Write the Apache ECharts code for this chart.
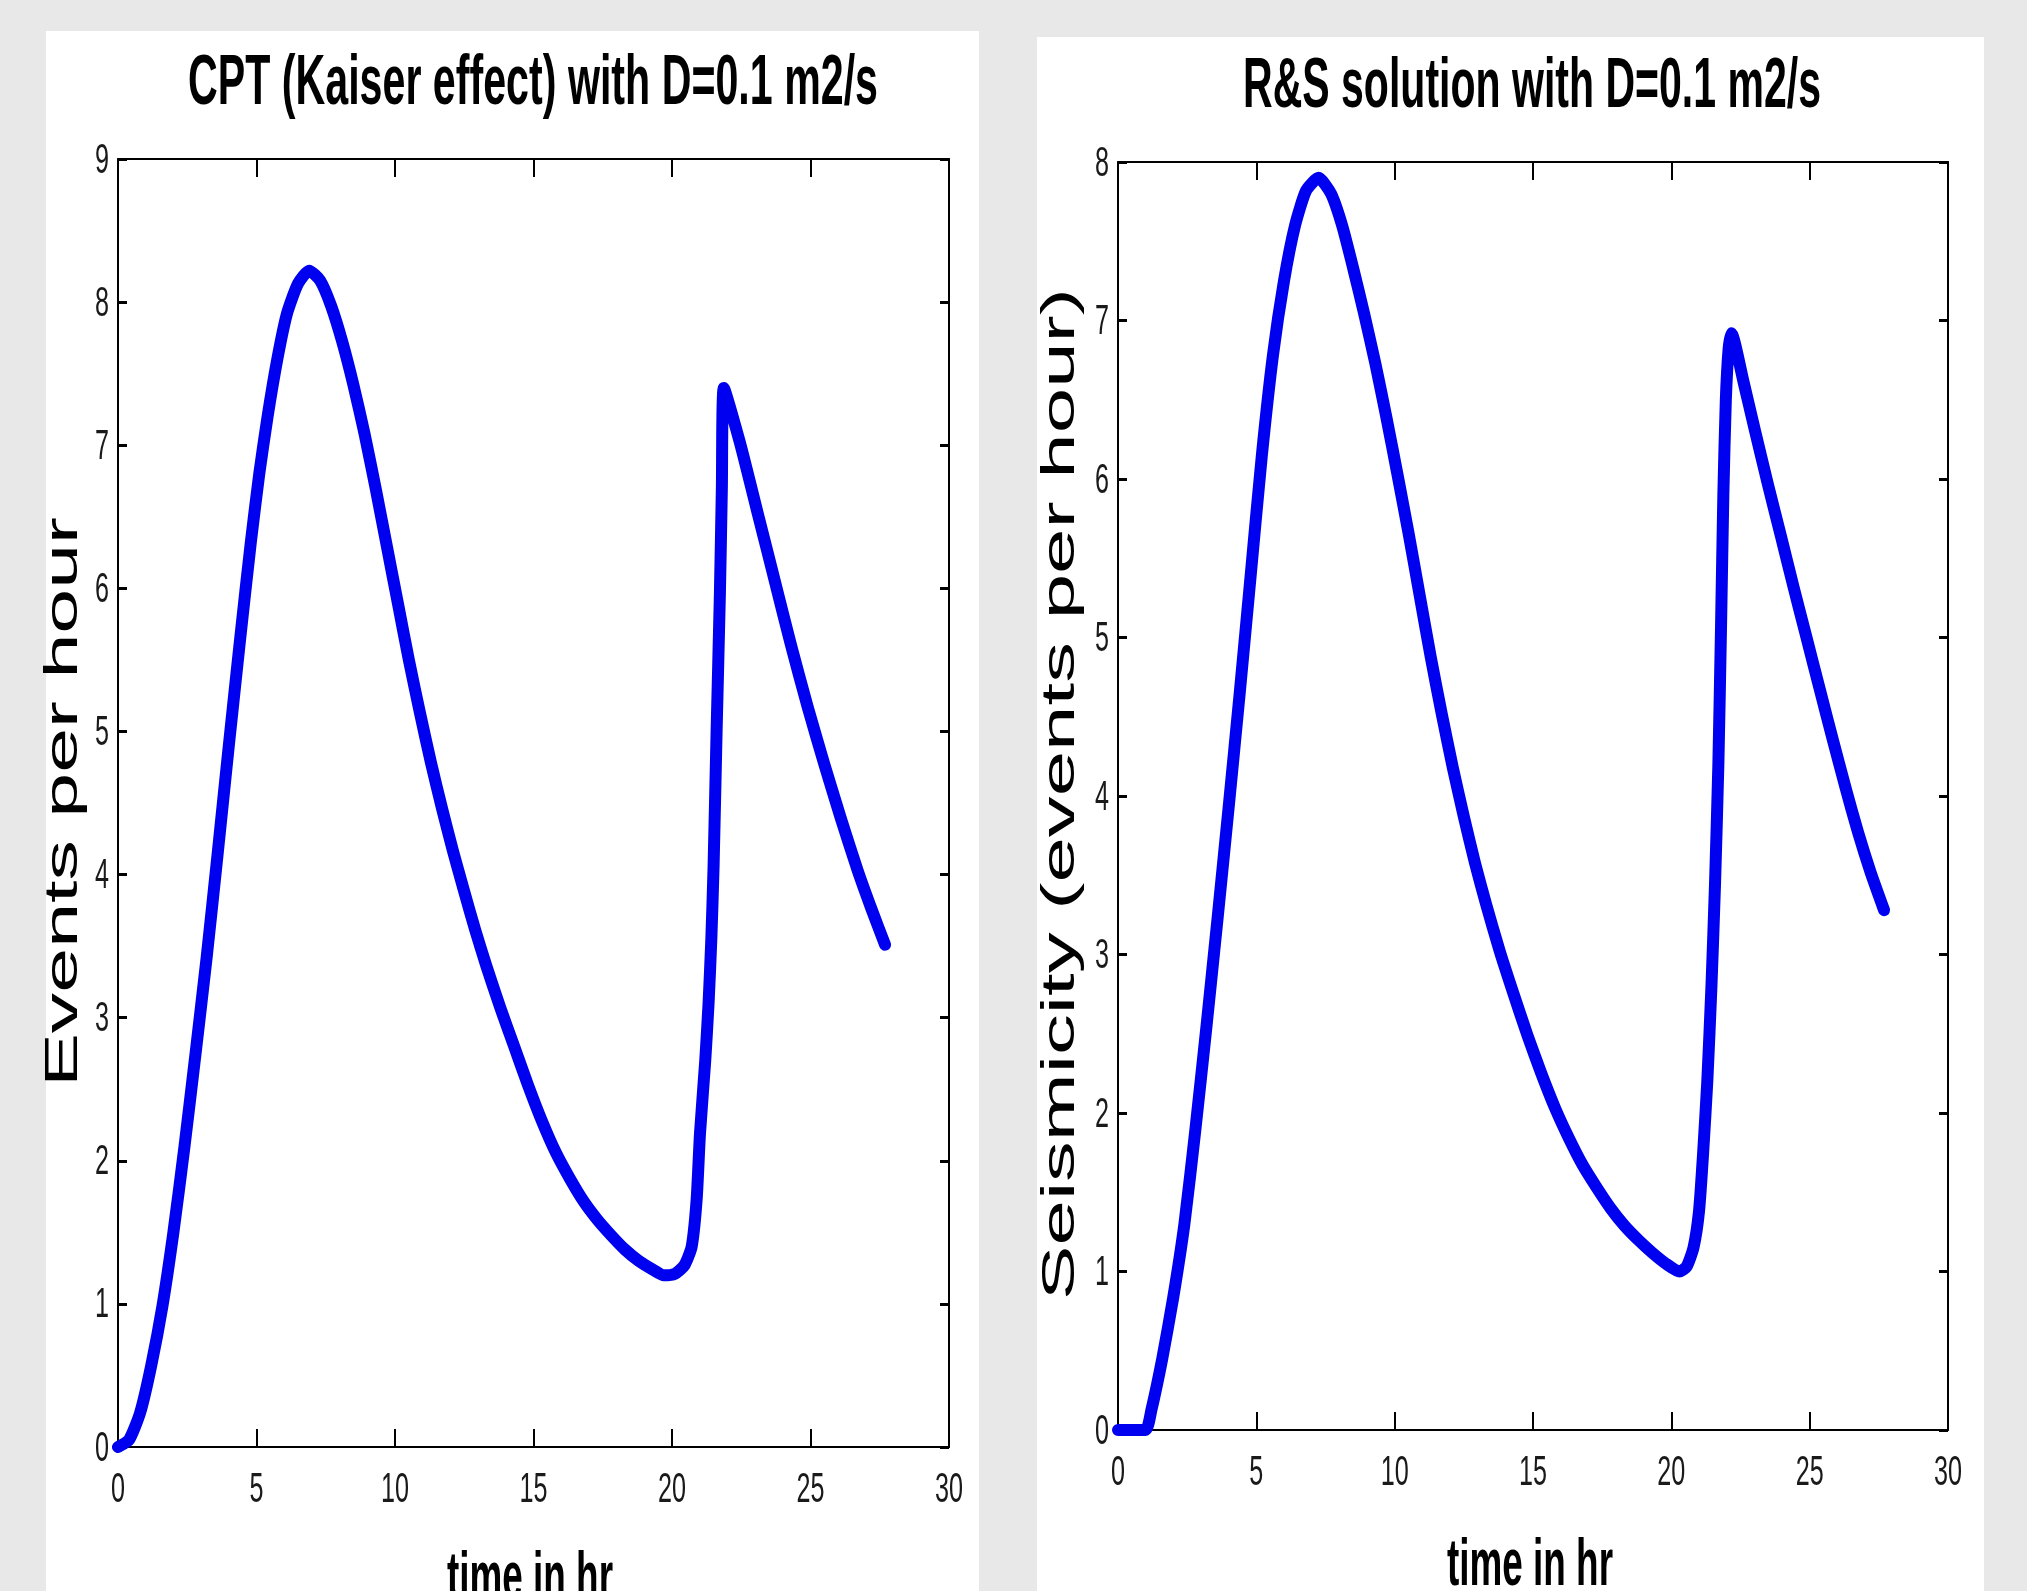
<!DOCTYPE html>
<html>
<head>
<meta charset="utf-8">
<script src="https://cdn.jsdelivr.net/npm/echarts@6/dist/echarts.min.js"></script>
<style>
html,body{margin:0;padding:0;background:#e8e8e8;}
#c{width:2027px;height:1591px;}
</style>
</head>
<body>
<div id="c"></div>
<script>
// ---------------- data ----------------
const xTicks = [0, 5, 10, 15, 20, 25, 30];
const cptYTicks = [0, 1, 2, 3, 4, 5, 6, 7, 8, 9];
const rsYTicks = [0, 1, 2, 3, 4, 5, 6, 7, 8];

const cptTitle = 'CPT (Kaiser effect) with D=0.1 m2/s';
const rsTitle = 'R&S solution with D=0.1 m2/s';
const xName = 'time in hr';
const cptYName = 'Events per hour';
const rsYName = 'Seismicity (events per hour)';

// [time (hr), events per hour]
const cptCurve = [
  [0, 0], [0.4, 0.05], [0.8, 0.24], [1.2, 0.57], [1.6, 0.98], [2.0, 1.5], [2.4, 2.1],
  [2.8, 2.75], [3.2, 3.42], [3.6, 4.15], [4.0, 4.9], [4.4, 5.63], [4.8, 6.33], [5.1, 6.8],
  [5.4, 7.2], [5.75, 7.6], [6.1, 7.92], [6.5, 8.13], [6.9, 8.22], [7.3, 8.15], [7.7, 7.97],
  [8.1, 7.72], [8.5, 7.42], [8.9, 7.08], [9.3, 6.7], [9.7, 6.3], [10.1, 5.9], [10.5, 5.5],
  [10.9, 5.13], [11.3, 4.78], [11.7, 4.46], [12.1, 4.16], [12.5, 3.88], [12.9, 3.61],
  [13.3, 3.36], [13.8, 3.07], [14.3, 2.8], [14.8, 2.53], [15.3, 2.28], [15.8, 2.06],
  [16.3, 1.88], [16.8, 1.72], [17.3, 1.59], [17.8, 1.48], [18.3, 1.38], [18.8, 1.3],
  [19.3, 1.24], [19.7, 1.2], [20.1, 1.21], [20.45, 1.27], [20.71, 1.4], [20.89, 1.73],
  [21.01, 2.19], [21.2, 2.7], [21.32, 3.1], [21.42, 3.55], [21.5, 4.05], [21.61, 5.0],
  [21.73, 5.97], [21.8, 6.7], [21.87, 7.4], [22.45, 7.02], [23.1, 6.52], [23.7, 6.06],
  [24.3, 5.6], [24.9, 5.17], [25.5, 4.77], [26.1, 4.39], [26.7, 4.03], [27.2, 3.76], [27.69, 3.51]
];

const rsCurve = [
  [0, 0], [0.5, 0], [1.0, 0], [1.2, 0.12], [1.6, 0.45], [2.0, 0.84], [2.4, 1.3],
  [2.8, 1.9], [3.2, 2.55], [3.6, 3.23], [4.0, 3.93], [4.4, 4.65], [4.8, 5.4], [5.2, 6.15],
  [5.6, 6.78], [6.0, 7.25], [6.4, 7.6], [6.8, 7.82], [7.25, 7.9], [7.7, 7.8], [8.1, 7.6],
  [8.5, 7.33], [8.9, 7.04], [9.3, 6.73], [9.7, 6.39], [10.1, 6.03], [10.5, 5.66],
  [10.9, 5.27], [11.3, 4.88], [11.7, 4.52], [12.1, 4.18], [12.5, 3.87], [12.9, 3.58],
  [13.3, 3.32], [13.8, 3.02], [14.3, 2.75], [14.8, 2.49], [15.3, 2.25], [15.8, 2.03],
  [16.3, 1.84], [16.8, 1.67], [17.3, 1.53], [17.8, 1.4], [18.3, 1.29], [18.8, 1.2],
  [19.3, 1.12], [19.8, 1.05], [20.3, 1.0], [20.55, 1.03], [20.8, 1.15], [21.0, 1.38],
  [21.15, 1.75], [21.3, 2.2], [21.45, 2.8], [21.58, 3.45], [21.7, 4.2], [21.8, 5.1],
  [21.88, 5.9], [21.97, 6.5], [22.07, 6.82], [22.17, 6.92], [22.6, 6.62], [23.03, 6.3],
  [23.5, 5.96], [23.96, 5.64], [24.43, 5.31], [24.9, 4.99], [25.37, 4.67], [25.83, 4.36],
  [26.3, 4.05], [26.75, 3.77], [27.2, 3.52], [27.69, 3.28]
];

// ---------------- layout / style ----------------
const FONT = '"Liberation Sans", Arial, Helvetica, sans-serif';
const LINE_COLOR = '#0000f0';
const ctx = document.createElement('canvas').getContext('2d');
function measure(text, size, weight) {
  ctx.font = weight + ' ' + size + 'px ' + FONT;
  return ctx.measureText(text).width;
}

const chart = echarts.init(document.getElementById('c'), null, { renderer: 'canvas' });

function xAx(grid, pos) {
  return {
    gridIndex: grid, type: 'value', min: 0, max: 30, interval: 5, position: pos,
    axisLine: { show: true, onZero: false, lineStyle: { color: '#000', width: 2 } },
    axisTick: { show: true, inside: true, length: 18, lineStyle: { color: '#000', width: 2 } },
    axisLabel: { show: false }, splitLine: { show: false }
  };
}
function yAx(grid, pos, max) {
  return {
    gridIndex: grid, type: 'value', min: 0, max: max, interval: 1, position: pos,
    axisLine: { show: true, onZero: false, lineStyle: { color: '#000', width: 2 } },
    axisTick: { show: true, inside: true, length: 9, lineStyle: { color: '#000', width: 3 } },
    axisLabel: { show: false }, splitLine: { show: false }
  };
}
function lineSeries(idx, data) {
  return {
    type: 'line', xAxisIndex: idx * 2, yAxisIndex: idx * 2, data: data,
    showSymbol: false, symbol: 'none', smooth: 0.2, clip: false,
    lineStyle: { color: LINE_COLOR, width: 12, cap: 'round', join: 'round' },
    z: 5
  };
}

chart.setOption({
  animation: false,
  backgroundColor: '#e8e8e8',
  grid: [
    { left: 118, top: 159, width: 831, height: 1288 },
    { left: 1118, top: 162, width: 830, height: 1268 }
  ],
  xAxis: [xAx(0, 'bottom'), xAx(0, 'top'), xAx(1, 'bottom'), xAx(1, 'top')],
  yAxis: [yAx(0, 'left', 9), yAx(0, 'right', 9), yAx(1, 'left', 8), yAx(1, 'right', 8)],
  series: [lineSeries(0, cptCurve), lineSeries(1, rsCurve)]
});

// ---------------- texts ----------------
const graphics = [
  { type: 'rect', z: -10, shape: { x: 46, y: 31, width: 933, height: 1600 }, style: { fill: '#ffffff' } },
  { type: 'rect', z: -10, shape: { x: 1037, y: 37, width: 947, height: 1600 }, style: { fill: '#ffffff' } }
];

function txt(text, x, y, size, weight, opts) {
  const o = Object.assign({ align: 'center', vAlign: 'middle', sx: 1, sy: 1, rot: 0, color: '#000' }, opts || {});
  let sx = o.sx;
  if (o.width) sx = o.width / measure(text, size, weight);
  graphics.push({
    type: 'text', z: 20, x: x, y: y, rotation: o.rot, scaleX: sx, scaleY: o.sy,
    style: { text: text, fill: o.color, font: weight + ' ' + size + 'px ' + FONT, align: o.align, verticalAlign: o.vAlign }
  });
}

// tick labels placed through the axis scales
[[0, cptYTicks], [1, rsYTicks]].forEach(function (g) {
  const gi = g[0];
  xTicks.forEach(function (v) {
    const p = chart.convertToPixel({ gridIndex: gi }, [v, 0]);
    txt(String(v), p[0], p[1] + 43, 42, 'normal', { sx: 0.6, color: '#1a1a1a' });
  });
  g[1].forEach(function (v) {
    const p = chart.convertToPixel({ gridIndex: gi }, [0, v]);
    txt(String(v), p[0] - 9, p[1] + 2, 42, 'normal', { sx: 0.6, align: 'right', color: '#1a1a1a' });
  });
});

// titles
txt(cptTitle, 533, 85, 70, 'bold', { width: 690 });
txt(rsTitle, 1532, 88, 70, 'bold', { width: 578 });
// x axis names
txt(xName, 530, 1580, 66, 'bold', { width: 166 });
txt(xName, 1530, 1567, 66, 'bold', { width: 166 });
// y axis names (rotated)
txt(cptYName, 64, 802, 81, 'normal', { width: 570, sy: 0.56, rot: Math.PI / 2 });
txt(rsYName, 1061, 794, 81, 'normal', { width: 1012, sy: 0.56, rot: Math.PI / 2 });

chart.setOption({ graphic: { elements: graphics } });
</script>
</body>
</html>
